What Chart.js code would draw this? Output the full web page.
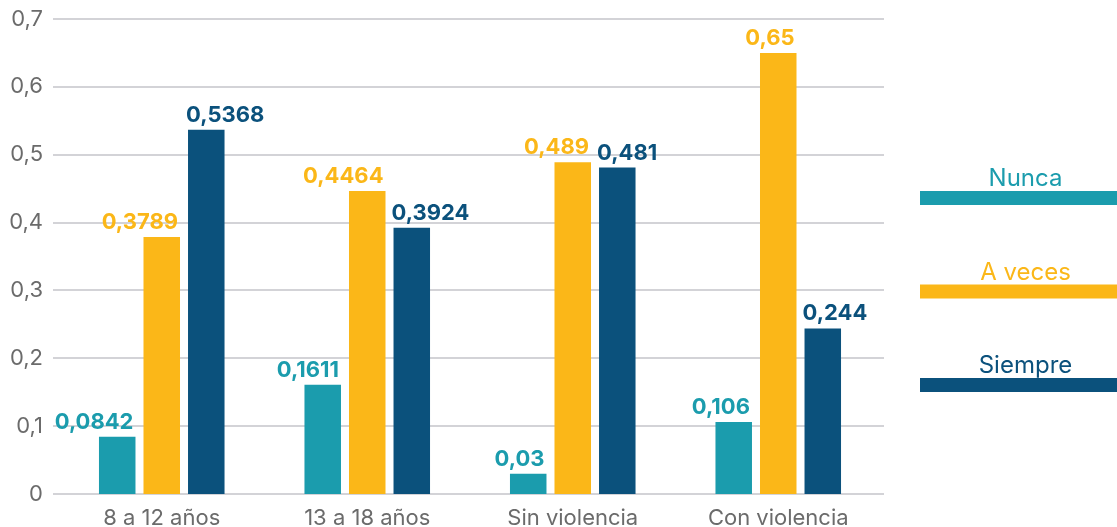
<!DOCTYPE html>
<html>
<head>
<meta charset="utf-8">
<script src="https://cdn.jsdelivr.net/npm/chart.js@4.4.1/dist/chart.umd.min.js"></script>
<style>
  html, body { margin: 0; padding: 0; background: #ffffff; }
  #wrap { width: 1117px; height: 527px; position: relative; }
</style>
</head>
<body>
<div id="wrap"><canvas id="c" width="1117" height="527"></canvas></div>
<script>
// Categories and series values
const categories = ['8 a 12 años', '13 a 18 años', 'Sin violencia', 'Con violencia'];
const seriesNames = ['Nunca', 'A veces', 'Siempre'];
const nunca = [0.0842, 0.1611, 0.03, 0.106];
const aVeces = [0.3789, 0.4464, 0.489, 0.65];
const siempre = [0.5368, 0.3924, 0.481, 0.244];
const yTickValues = [0, 0.1, 0.2, 0.3, 0.4, 0.5, 0.6, 0.7];

const COLORS = ['#1b9cad', '#fbb718', '#0b517c'];
const GRAY = '#6b6b6b';
const GRID = '#d3d3d7';
const FONT = 'Inter, "Noto Sans", sans-serif';

// Decimal comma formatting
const fmt = v => (v === 0 ? '0' : String(v).replace('.', ','));

// Horizontal guide lines, a little wider than the plotting area
const guideLines = {
  id: 'guideLines',
  beforeDatasetsDraw(chart) {
    const ctx = chart.ctx;
    const y = chart.scales.y;
    const { left, right } = chart.chartArea;
    ctx.save();
    ctx.strokeStyle = GRID;
    ctx.lineWidth = 2;
    y.ticks.forEach(t => {
      const py = Math.round(y.getPixelForValue(t.value));
      ctx.beginPath();
      ctx.moveTo(left - 6, py);
      ctx.lineTo(right + 3, py);
      ctx.stroke();
    });
    ctx.restore();
  }
};

// Value labels above bars: first two series end at the bar's right edge,
// the last one starts at the bar's left edge.
const valueLabels = {
  id: 'valueLabels',
  afterDatasetsDraw(chart) {
    const ctx = chart.ctx;
    ctx.save();
    ctx.font = 'bold 22px ' + FONT;
    ctx.textBaseline = 'alphabetic';
    chart.data.datasets.forEach((ds, i) => {
      const meta = chart.getDatasetMeta(i);
      ctx.fillStyle = ds.backgroundColor;
      meta.data.forEach((bar, j) => {
        const p = bar.getProps(['x', 'y', 'width'], true);
        const fromLeft = ds.labelSide === 'left';
        ctx.textAlign = fromLeft ? 'left' : 'right';
        const tx = fromLeft ? p.x - p.width / 2 - 2 : p.x + p.width / 2 - 2;
        ctx.fillText(fmt(ds.data[j]), tx, p.y - 8);
      });
    });
    ctx.restore();
  }
};

// Legend on the right: name above a thick colour band
const sideLegend = {
  id: 'sideLegend',
  afterDraw(chart) {
    const ctx = chart.ctx;
    const left = chart.chartArea.right + 39;
    const bandW = 215, bandH = 14, firstTop = 191, step = 93.5;
    ctx.save();
    ctx.font = '24px ' + FONT;
    ctx.textAlign = 'center';
    ctx.textBaseline = 'alphabetic';
    chart.data.datasets.forEach((ds, i) => {
      const top = firstTop + i * step;
      ctx.fillStyle = ds.backgroundColor;
      ctx.fillRect(left, top, bandW, bandH);
      ctx.fillText(ds.label, left + bandW / 2 - 2, top - 5);
    });
    ctx.restore();
  }
};

const seriesValues = [nunca, aVeces, siempre];
const sides = ['right', 'right', 'left'];

new Chart(document.getElementById('c'), {
  type: 'bar',
  data: {
    labels: categories,
    datasets: seriesNames.map((name, i) => ({
      label: name,
      data: seriesValues[i],
      backgroundColor: COLORS[i],
      borderWidth: 0,
      labelSide: sides[i],
      barPercentage: 0.82,
      categoryPercentage: 0.65
    }))
  },
  options: {
    responsive: false,
    animation: false,
    devicePixelRatio: 1,
    layout: { padding: { top: 19, right: 236, bottom: 0, left: 0 } },
    plugins: {
      legend: { display: false },
      tooltip: { enabled: false }
    },
    scales: {
      x: {
        grid: { display: false },
        border: { display: false },
        ticks: {
          color: GRAY,
          font: { family: FONT, size: 22 },
          padding: 3,
          maxRotation: 0
        },
        afterFit(scale) { scale.height = 33; }
      },
      y: {
        min: 0,
        max: 0.7,
        afterBuildTicks(scale) { scale.ticks = yTickValues.map(v => ({ value: v })); },
        grid: { display: false, drawTicks: false },
        border: { display: false },
        ticks: {
          color: GRAY,
          font: { family: FONT, size: 22 },
          padding: 16,
          callback: v => fmt(Math.round(v * 10) / 10)
        },
        afterFit(scale) {
          scale.width = 59;
          scale.paddingTop = 0;
          scale.paddingBottom = 0;
        }
      }
    }
  },
  plugins: [guideLines, valueLabels, sideLegend]
});
</script>
</body>
</html>
